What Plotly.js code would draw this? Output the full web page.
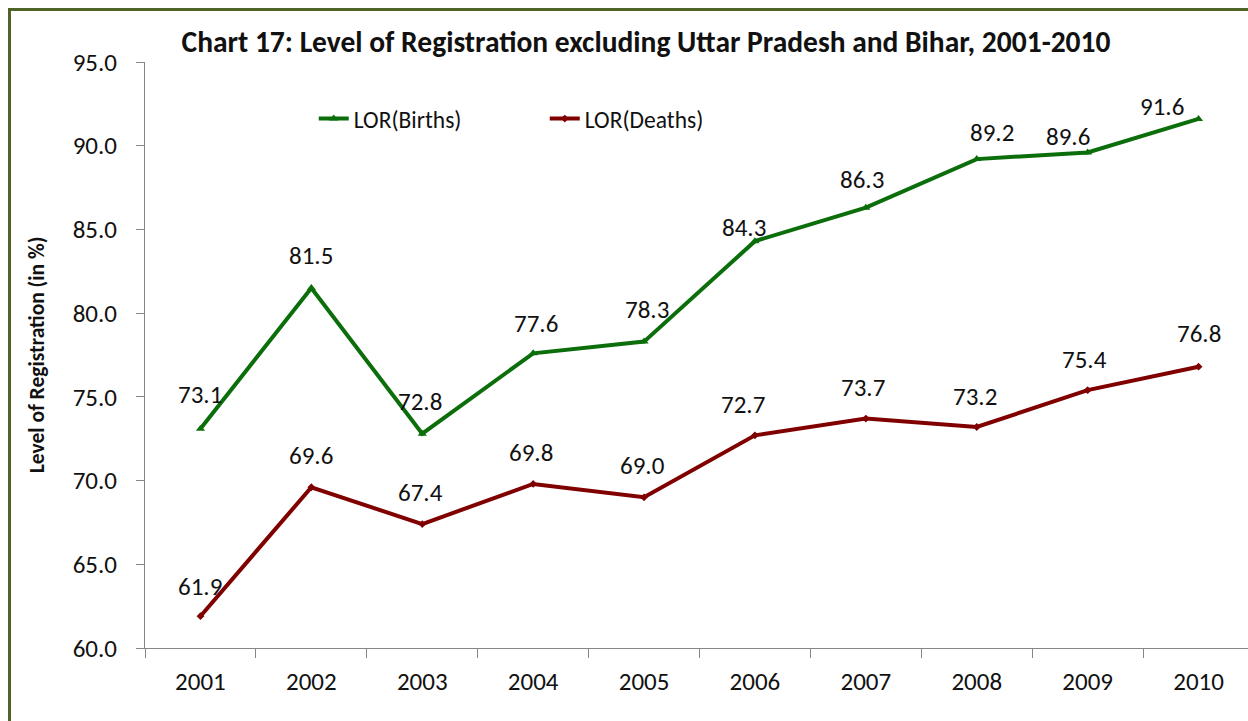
<!DOCTYPE html>
<html>
<head>
<meta charset="utf-8">
<script src="https://cdn.plot.ly/plotly-3.0.1.min.js"></script>
<style>
  html, body { margin: 0; padding: 0; background: #ffffff; }
  #chart { width: 1248px; height: 721px; position: relative; }
  #frame { position: absolute; left: 8px; top: 8px; width: 1300px; height: 800px;
           border-left: 3px solid #4F6228; border-top: 3px solid #4F6228; pointer-events: none; }
</style>
</head>
<body>
<div id="chart"></div>
<div id="frame"></div>
<script>
// ---- data ----
const years = ["2001","2002","2003","2004","2005","2006","2007","2008","2009","2010"];
const births = [73.1, 81.5, 72.8, 77.6, 78.3, 84.3, 86.3, 89.2, 89.6, 91.6];
const deaths = [61.9, 69.6, 67.4, 69.8, 69.0, 72.7, 73.7, 73.2, 75.4, 76.8];
const birthsName = "LOR(Births)";
const deathsName = "LOR(Deaths)";
const yTicks = [60, 65, 70, 75, 80, 85, 90, 95];

// label offsets (pixels) for data labels
const birthsDx = [0, 0, -2, 3, 3, -11, -4, 15, -20, -37];
const birthsDy = [34, 33, 32, 30, 32, 14, 28, 27, 16, 12];
const deathsDx = [0, 0, -2, -2, -2, -12, -3, -2, -3, 0];
const deathsDy = [30, 32, 32, 31, 32, 31, 31, 30, 31, 33];

const FONT = "Carlito, Lato, 'Liberation Sans', sans-serif";
const GREEN = "#0B6E0B";
const RED = "#800000";

const traces = [
  { x: years, y: births, name: birthsName, type: "scatter", mode: "lines+markers",
    line: { color: GREEN, width: 4 }, marker: { symbol: "triangle-up", size: 8, color: GREEN } },
  { x: years, y: deaths, name: deathsName, type: "scatter", mode: "lines+markers",
    line: { color: RED, width: 4 }, marker: { symbol: "diamond", size: 6, color: RED } }
];

const annotations = [];
years.forEach((yr, i) => {
  annotations.push({ xref: "x", yref: "y", x: i, y: births[i], text: births[i].toFixed(1), showarrow: false,
    xshift: birthsDx[i], yshift: birthsDy[i], font: { family: FONT, size: 25, color: "#111" } });
  annotations.push({ xref: "x", yref: "y", x: i, y: deaths[i], text: deaths[i].toFixed(1), showarrow: false,
    xshift: deathsDx[i], yshift: deathsDy[i], font: { family: FONT, size: 25, color: "#111" } });
});

const layout = {
  width: 1248, height: 721,
  margin: { l: 145, r: 0, t: 62, b: 73, pad: 0 },
  paper_bgcolor: "#ffffff", plot_bgcolor: "#ffffff",
  font: { family: FONT, color: "#111" },
  title: { text: "<b>Chart 17: Level of Registration excluding Uttar Pradesh and Bihar, 2001-2010</b>",
    font: { family: FONT, size: 29.5, color: "#111" },
    xref: "container", x: 646 / 1248, xanchor: "center",
    yref: "container", y: 1 - 42 / 721, yanchor: "middle" },
  xaxis: { type: "category", range: [-0.5, -0.5 + (1248 - 145) / 110.9],
    showgrid: false, zeroline: false, showline: true, linecolor: "#868686", linewidth: 1,
    ticks: "outside", tickson: "boundaries", ticklen: 9, tickcolor: "#868686", tickwidth: 1,
    ticklabelstandoff: 11,
    tickfont: { family: FONT, size: 25, color: "#111" } },
  yaxis: { range: [60, 95], tickvals: yTicks, tickformat: ".1f",
    showgrid: false, zeroline: false, showline: true, linecolor: "#868686", linewidth: 1,
    ticks: "outside", ticklen: 8, tickcolor: "#868686", tickwidth: 1,
    ticklabelstandoff: 14,
    tickfont: { family: FONT, size: 25, color: "#111" },
    title: { text: "<b>Level of Registration (in %)</b>", standoff: 22,
      font: { family: FONT, size: 21.5, color: "#111" } } },
  legend: { orientation: "h", x: 0.153, xanchor: "left", y: 0.903, yanchor: "middle",
    bgcolor: "rgba(0,0,0,0)", font: { family: FONT, size: 23.5, color: "#111" },
    entrywidth: 186, entrywidthmode: "pixels", itemwidth: 30 },
  showlegend: true,
  annotations: annotations
};

Plotly.newPlot("chart", traces, layout, { displayModeBar: false, staticPlot: true });
</script>
</body>
</html>
